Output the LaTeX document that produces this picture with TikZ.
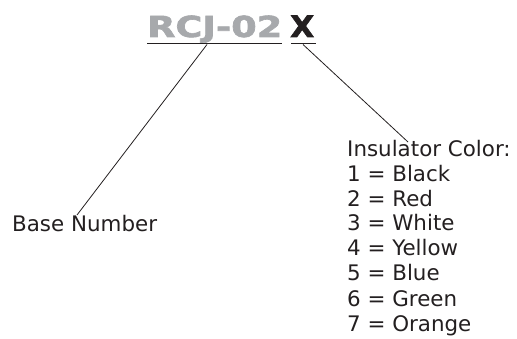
\documentclass[tikz,border=0pt]{standalone}
\usepackage{fontspec}
\setmainfont{DejaVu Sans}
\newfontfamily\rcjfont[FakeBold=2]{DejaVu Sans Bold}
\usepackage{graphicx}
\definecolor{rcjgray}{RGB}{167,169,172}
\definecolor{ink}{RGB}{35,31,32}
\tikzset{lbl/.style={anchor=base west,inner sep=0pt,text=ink,font=\fontsize{21.4}{24}\selectfont}}
\begin{document}
\begin{tikzpicture}[x=1pt,y=-1pt]
\useasboundingbox (0,0) rectangle (517,339);
\node (rcj) at (147,37) [anchor=base west,inner sep=0pt,text=rcjgray] {\resizebox{135pt}{21.5pt}{\rcjfont RCJ-02}};
\node (x) at (290,37) [anchor=base west,inner sep=0pt,text=ink] {\resizebox{24pt}{21.5pt}{\rcjfont X}};
\draw [ink,line width=1.6pt] (147,43.5) -- (282,43.5);
\draw [ink,line width=1.6pt] (291,43.5) -- (316,43.5);

\node (base) at (12,232) [lbl] {Base Number};

\node (ins) at (347,157) [lbl] {Insulator Color:};
\node (c1) at (347,182) [lbl] {1 = Black};
\node (c2) at (347,207) [lbl] {2 = Red};
\node (c3) at (347,231) [lbl] {3 = White};
\node (c4) at (347,256) [lbl] {4 = Yellow};
\node (c5) at (347,281) [lbl] {5 = Blue};
\node (c6) at (347,306) [lbl] {6 = Green};
\node (c7) at (347,331) [lbl] {7 = Orange};

\coordinate (v1) at (207,44.5);
\coordinate (v2) at (77,215);
\coordinate (v3) at (303,44.5);
\coordinate (v4) at (408,142);
\draw [ink,line width=0.8pt] (v1) -- (v2);
\draw [ink,line width=0.8pt] (v3) -- (v4);
\end{tikzpicture}
\end{document}
